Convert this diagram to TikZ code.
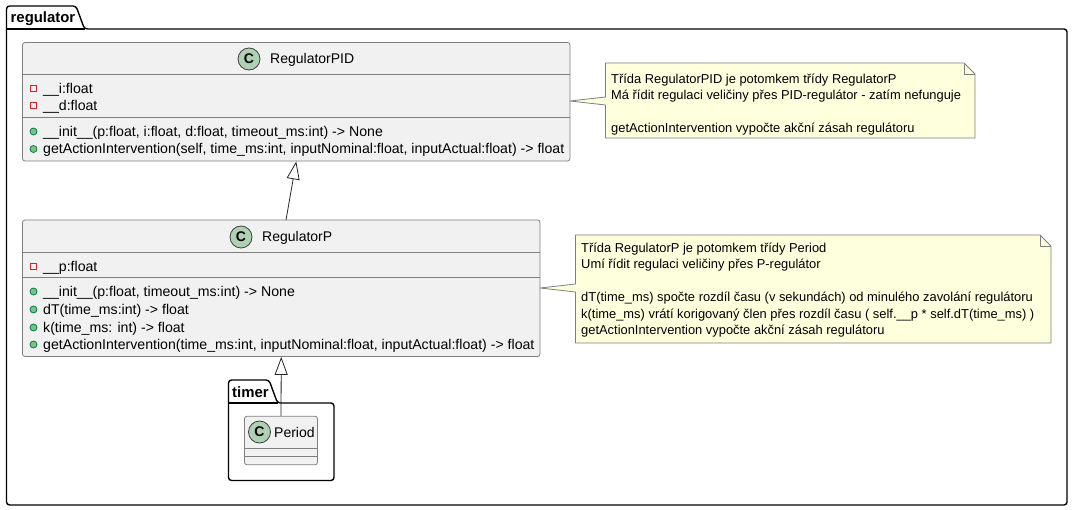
\documentclass[tikz,border=0pt]{standalone}
\usepackage{fontspec}
\setmainfont{Liberation Sans}
\usetikzlibrary{arrows.meta,positioning}
\definecolor{classfill}{HTML}{F1F1F1}
\definecolor{classline}{HTML}{7F7F7F}
\definecolor{spotfill}{HTML}{ADD1B2}
\definecolor{notefill}{HTML}{FEFFDD}
\definecolor{privline}{HTML}{C82930}
\definecolor{pubfill}{HTML}{84BE84}
\definecolor{publine}{HTML}{038048}
\tikzset{
  package/.style = {draw = black, line width = 1.4pt, rounded corners = 3pt, fill = white},
  pkgname/.style = {anchor = base west, inner sep = 0pt, font = \fontsize{14.9}{16}\selectfont\bfseries},
  classbox/.style = {draw = classline, fill = classfill, line width = 0.8pt, rounded corners = 2.5pt, inner sep = 0pt},
  divider/.style = {draw = classline, line width = 0.8pt},
  spot/.style = {circle, draw = black!75, fill = spotfill, line width = 0.8pt, minimum size = 22pt, inner sep = 0pt, font = \fontsize{14}{16}\selectfont\bfseries},
  title/.style = {anchor = base west, inner sep = 0pt, font = \fontsize{14}{16}\selectfont},
  member/.style = {anchor = base west, inner sep = 0pt, yshift = -0.6pt, font = \fontsize{14.13}{16}\selectfont},
  privicon/.style = {rectangle, draw = privline, line width = 0.8pt, minimum size = 6pt, inner sep = 0pt},
  pubicon/.style = {circle, draw = publine, fill = pubfill, line width = 0.8pt, minimum size = 7pt, inner sep = 0pt},
  inherit/.style = {draw = black!85, line width = 0.8pt, -{Triangle[open, fill = white, length = 18pt, width = 13pt]}},
  note/.style = {draw = classline, fill = notefill, line width = 0.8pt, line join = round},
  notetext/.style = {anchor = north west, inner sep = 0pt, align = left, font = \fontsize{12.9}{16.5}\selectfont}
}

\begin{document}
\begin{tikzpicture}[x = 1pt, y = -1pt]
\useasboundingbox (0, 0) rectangle (1073, 510);
%outer package
\draw [package] (6.5, 29) -- (6.5, 6) -- (76, 6) -- (84.5, 29) -- (1067, 29) -- (1067, 505) -- (6.5, 505) -- cycle;
\draw [line width = 1.4pt] (6.5, 29) -- (84.5, 29);
\node [pkgname] (regname) at (10.5, 23) {regulator};

%RegulatorPID
\node [classbox, minimum width = 547.5pt, minimum height = 118.5pt] (pidbox) at (296.25, 101.75) {};
\draw [divider] (22.5, 74.5) -- (570, 74.5);
\draw [divider] (22.5, 117.5) -- (570, 117.5);
\node [spot] (pidspot) at (249, 59) {C};
\node [title] (pidname) at (270, 64) {RegulatorPID};
\node [privicon] (pidia) at (33.5, 88.5) {};
\node [privicon] (pidib) at (33.5, 105.5) {};
\node [pubicon] (pidic) at (33.5, 131.5) {};
\node [pubicon] (pidid) at (33.5, 149) {};
\node [member] (pidma) at (43, 93) {\_\_i:float};
\node [member] (pidmb) at (43, 110) {\_\_d:float};
\node [member] (pidmc) at (43, 136) {\_\_init\_\_(p:float, i:float, d:float, timeout\_ms:int) -> None};
\node [member] (pidmd) at (43, 153) {getActionIntervention(self, time\_ms:int, inputNominal:float, inputActual:float) -> float};

%RegulatorP
\node [classbox, minimum width = 517.5pt, minimum height = 136.5pt] (pbox) at (281.25, 288.25) {};
\draw [divider] (22.5, 252.5) -- (540, 252.5);
\draw [divider] (22.5, 277.5) -- (540, 277.5);
\node [spot] (pspot) at (241, 237) {C};
\node [title] (pname) at (262, 242) {RegulatorP};
\node [privicon] (pia) at (33.5, 266.5) {};
\node [pubicon] (pib) at (33.5, 291.5) {};
\node [pubicon] (pic) at (33.5, 309.5) {};
\node [pubicon] (pid) at (33.5, 327.5) {};
\node [pubicon] (pie) at (33.5, 344.5) {};
\node [member] (pma) at (43, 271) {\_\_p:float};
\node [member] (pmb) at (43, 296) {\_\_init\_\_(p:float, timeout\_ms:int) -> None};
\node [member] (pmc) at (43, 314) {dT(time\_ms:int) -> float};
\node [member] (pmd) at (43, 332) {k(time\_ms: int) -> float};
\node [member] (pme) at (43, 349) {getActionIntervention(time\_ms:int, inputNominal:float, inputActual:float) -> float};

%timer package
\draw [package] (228.5, 403) -- (228.5, 380) -- (269, 380) -- (277.5, 403) -- (334, 403) -- (334, 480.5) -- (228.5, 480.5) -- cycle;
\draw [line width = 1.4pt] (228.5, 403) -- (277.5, 403);
\node [pkgname] (timername) at (232, 397) {timer};
\node [classbox, minimum width = 73pt, minimum height = 48.5pt] (periodbox) at (281, 440.5) {};
\draw [divider] (244.5, 448.5) -- (317.5, 448.5);
\draw [divider] (244.5, 456.5) -- (317.5, 456.5);
\node [spot] (periodspot) at (259.5, 432) {C};
\node [title] (periodname) at (274, 437) {Period};

%inheritance
\coordinate (ptop) at (286, 220);
\draw [inherit] (ptop) -- (pidbox.south);
\draw [inherit] (periodbox.north) -- (pbox.south);

%notes
\coordinate (pidtail) at (570, 101);
\coordinate (ptail) at (540, 288);
\draw [note] (605.5, 63) -- (964, 63) -- (975, 74) -- (975, 138) -- (605.5, 138) -- (605.5, 105) -- (pidtail) -- (605.5, 97) -- cycle;
\draw [note, fill = none] (964, 63) -- (964, 74) -- (975, 74);
\node [notetext] (pidnote) at (611, 73.7) {Třída RegulatorPID je potomkem třídy RegulatorP\\
Má řídit regulaci veličiny přes PID-regulátor - zatím nefunguje\\
\\
getActionIntervention vypočte akční zásah regulátoru};
\draw [note] (575.5, 235) -- (1040, 235) -- (1051, 246) -- (1051, 343) -- (575.5, 343) -- (575.5, 292) -- (ptail) -- (575.5, 284) -- cycle;
\draw [note, fill = none] (1040, 235) -- (1040, 246) -- (1051, 246);
\node [notetext] (pnote) at (581, 242.7) {Třída RegulatorP je potomkem třídy Period\\
Umí řídit regulaci veličiny přes P-regulátor\\
\\
dT(time\_ms) spočte rozdíl času (v sekundách) od minulého zavolání regulátoru\\
k(time\_ms) vrátí korigovaný člen přes rozdíl času ( self.\_\_p * self.dT(time\_ms) )\\
getActionIntervention vypočte akční zásah regulátoru};
\end{tikzpicture}
\end{document}
